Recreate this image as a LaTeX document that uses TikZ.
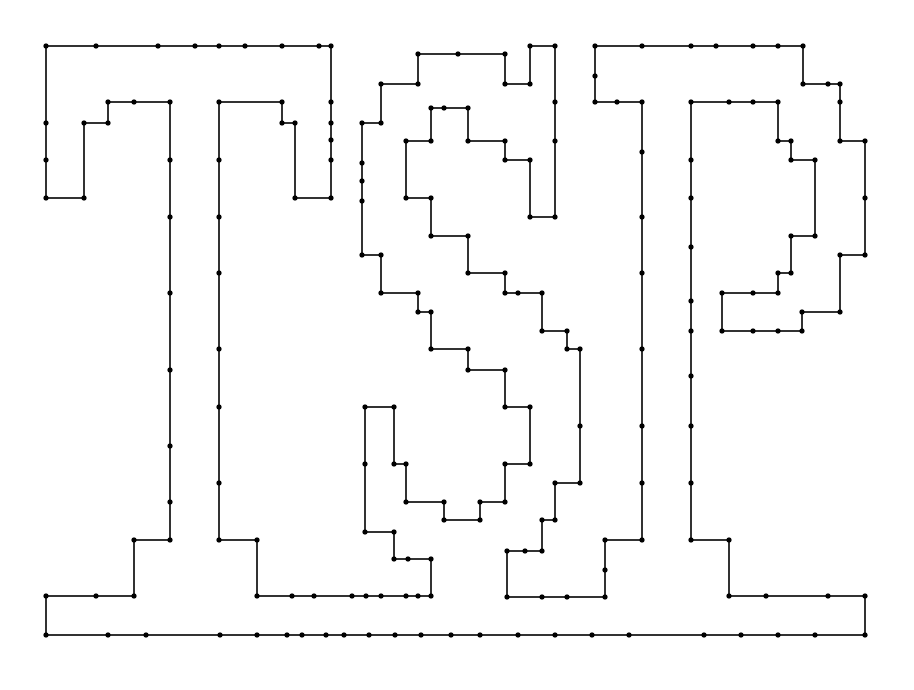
\documentclass[tikz,border=0pt]{standalone}
\tikzset{
  tour/.style={line width=1.25pt, draw=black!80, line join=round},
  tourdot/.style={fill=black}
}
\begin{document}
\begin{tikzpicture}[x=1pt,y=-1pt]
\useasboundingbox (0,0) rectangle (914,690);
\foreach \a/\b [count=\i] in {
46/46,96/46,158/46,195/46,219/46,245/46,282/46,319/46,331/46,
331/102,331/123,331/140,331/160,331/198,
295/198,295/123,282/123,282/102,219/102,
219/160,219/217,219/273,219/349,219/407,219/483,219/540,
257/540,257/596,
292/596,314/596,352/596,366/596,381/596,406/596,418/596,431/596,
431/559,408/559,394/559,394/532,365/532,365/464,365/407,394/407,394/464,406/464,406/502,444/502,444/520,480/520,480/502,505/502,505/464,530/464,530/407,505/407,505/370,468/370,468/349,431/349,431/312,418/312,418/293,381/293,381/255,362/255,362/201,362/181,362/163,362/123,381/123,381/84,418/84,418/54,458/54,505/54,505/84,530/84,530/46,555/46,555/102,555/141,555/217,530/217,530/160,505/160,505/141,468/141,468/108,444/108,431/108,431/141,406/141,406/198,431/198,
431/236,468/236,468/273,505/273,505/293,518/293,542/293,542/331,567/331,567/349,580/349,580/426,580/483,555/483,555/520,542/520,542/551,525/551,507/551,507/597,542/597,567/597,605/597,605/570,605/540,642/540,
642/483,642/426,642/349,642/273,642/217,642/152,642/102,617/102,595/102,595/76,595/46,
642/46,691/46,716/46,753/46,778/46,803/46,803/84,828/84,840/84,840/102,840/141,865/141,865/198,865/255,840/255,840/312,802/312,802/331,778/331,753/331,722/331,722/293,753/293,778/293,778/273,791/273,791/236,815/236,815/160,791/160,791/141,778/141,778/102,753/102,729/102,691/102,
691/160,691/198,691/247,691/301,691/331,691/376,691/426,691/483,691/540,729/540,729/596,766/596,828/596,865/596,
865/635,815/635,778/635,741/635,704/635,629/635,592/635,555/635,518/635,480/635,451/635,421/635,395/635,369/635,344/635,326/635,302/635,287/635,257/635,220/635,146/635,108/635,46/635,
46/596,96/596,134/596,134/540,170/540,
170/502,170/446,170/370,170/293,170/217,170/160,170/102,134/102,108/102,108/123,84/123,84/198,46/198,46/160,46/123}
{\coordinate (p\i) at (\a,\b); \xdef\N{\i}}
\draw[tour] (p1) \foreach \i in {2,...,\N} {-- (p\i)} -- cycle;
\foreach \i in {1,...,\N} {\fill[tourdot] (p\i) circle (2.7pt);}
\end{tikzpicture}
\end{document}
